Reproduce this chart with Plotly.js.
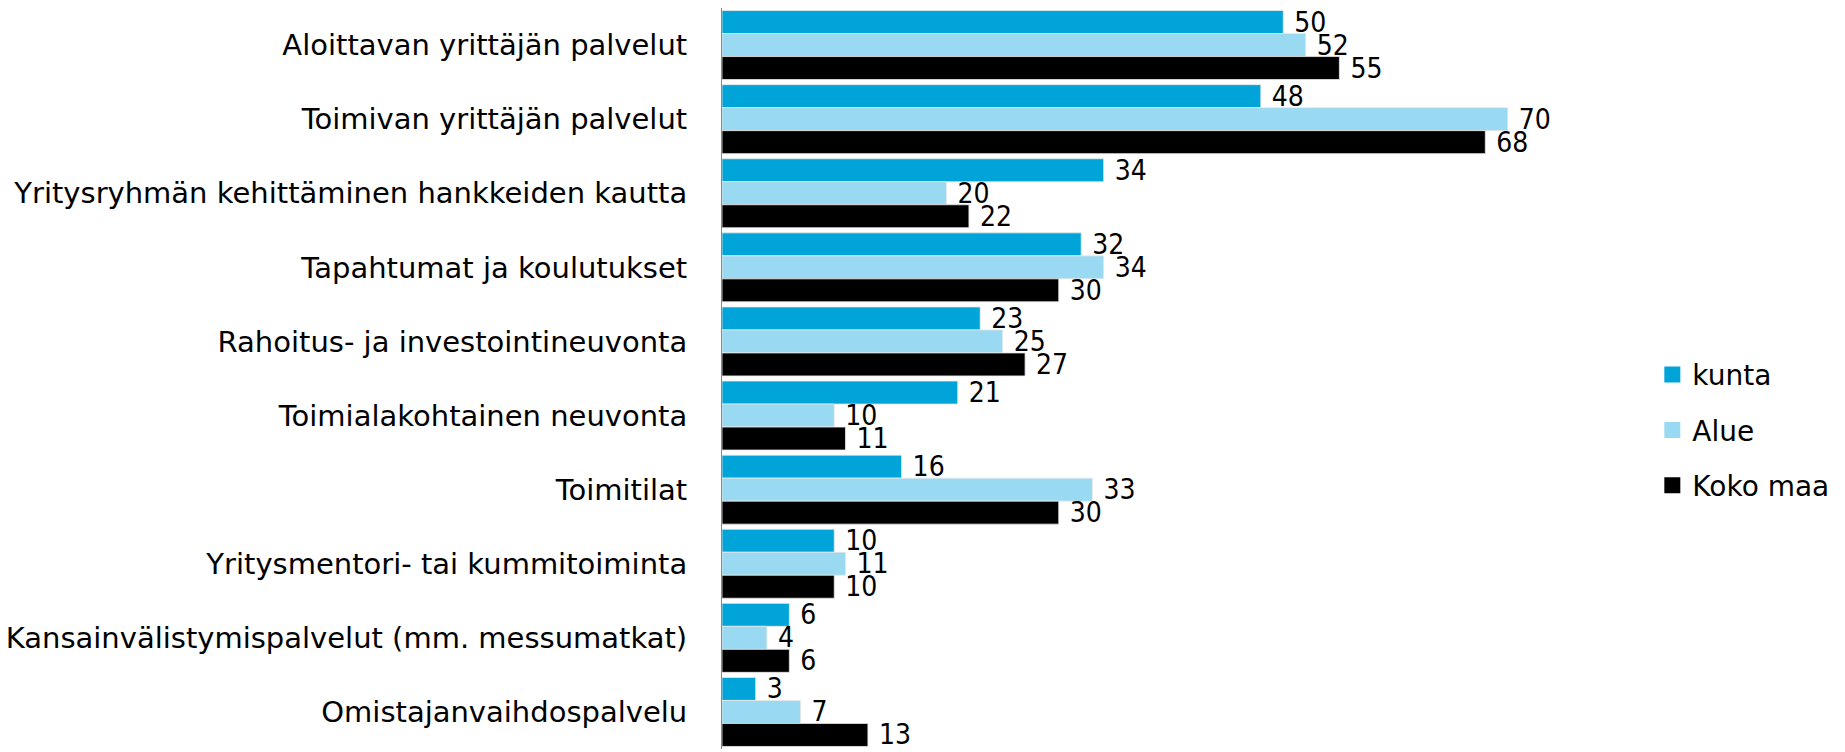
<!DOCTYPE html>
<html>
<head>
<meta charset="utf-8">
<script src="https://cdn.plot.ly/plotly-3.0.1.min.js"></script>
<style>html,body{margin:0;padding:0;background:#fff;}#chart{width:1845px;height:752px;}</style>
</head>
<body>
<div id="chart"></div>
<script>
const categories = [
  "Aloittavan yrittäjän palvelut",
  "Toimivan yrittäjän palvelut",
  "Yritysryhmän kehittäminen hankkeiden kautta",
  "Tapahtumat ja koulutukset",
  "Rahoitus- ja investointineuvonta",
  "Toimialakohtainen neuvonta",
  "Toimitilat",
  "Yritysmentori- tai kummitoiminta",
  "Kansainvälistymispalvelut (mm. messumatkat)",
  "Omistajanvaihdospalvelu"
];
const kunta   = [50, 48, 34, 32, 23, 21, 16, 10, 6, 3];
const alue    = [52, 70, 20, 34, 25, 10, 33, 11, 4, 7];
const kokoMaa = [55, 68, 22, 30, 27, 11, 30, 10, 6, 13];
const seriesNames = ["kunta", "Alue", "Koko maa"];
const seriesColors = ["#00a4d9", "#99d9f1", "#000000"];

const numFont = {family: "DejaVu Sans Condensed, Liberation Sans, sans-serif", size: 28, color: "#000"};
const series = [kunta, alue, kokoMaa];
const barTraces = series.map((vals, i) => ({
  type: "bar",
  orientation: "h",
  name: seriesNames[i],
  legendgroup: "g" + i,
  showlegend: false,
  y: categories,
  x: vals,
  marker: {color: seriesColors[i], line: {color: "#e8e8e8", width: 0.8}},
  text: vals.map(v => "\u00a0" + v),
  textposition: "outside",
  textfont: numFont,
  constraintext: "none",
  cliponaxis: false,
  hoverinfo: "x+y"
}));
// legend-only entries (larger square swatches)
const legendTraces = seriesNames.map((n, i) => ({
  type: "scatter",
  mode: "markers",
  name: n,
  legendgroup: "g" + i,
  x: [null],
  y: [null],
  marker: {symbol: "square", size: 18, color: seriesColors[i]},
  hoverinfo: "skip"
}));

const layout = {
  width: 1845, height: 752,
  margin: {l: 722, r: 225, t: 8, b: 3, pad: 0},
  paper_bgcolor: "#fff", plot_bgcolor: "#fff",
  barmode: "group",
  bargap: 0.069,
  bargroupgap: 0,
  font: {family: "DejaVu Sans, sans-serif", size: 28, color: "#000"},
  xaxis: {range: [0, 80], visible: false, showgrid: false, zeroline: false},
  yaxis: {
    type: "category",
    autorange: "reversed",
    showline: true, linecolor: "#888", linewidth: 1,
    ticks: "", showgrid: false, zeroline: false,
    ticklabelstandoff: 28,
    tickfont: {family: "DejaVu Sans, sans-serif", size: 29, color: "#000"}
  },
  showlegend: true,
  legend: {
    x: 1.036, xanchor: "left",
    y: 0.43, yanchor: "middle",
    font: {family: "DejaVu Sans, sans-serif", size: 28, color: "#000"},
    tracegroupgap: 16,
    itemsizing: "trace",
    bgcolor: "rgba(0,0,0,0)"
  }
};

Plotly.newPlot("chart", barTraces.concat(legendTraces), layout, {staticPlot: true});
</script>
</body>
</html>
